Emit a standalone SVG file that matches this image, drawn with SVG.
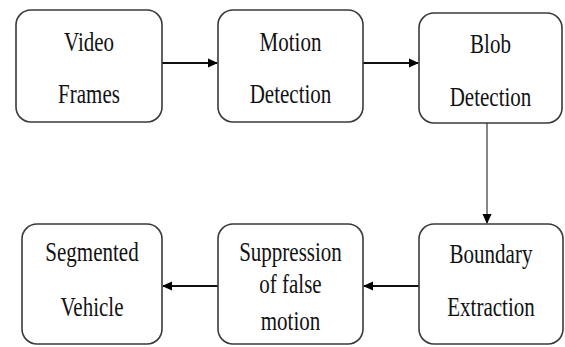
<svg xmlns="http://www.w3.org/2000/svg" width="565" height="347" viewBox="0 0 565 347">
<style>
.box{fill:#fff;stroke:#3a3a3a;stroke-width:1.6}
.t{font-family:"Liberation Serif","Times New Roman",serif;font-size:21px;fill:#111;text-anchor:middle}
.c{stroke:#111;stroke-width:1.8;fill:none}
.cv{stroke:#222;stroke-width:1.1;fill:none}
</style>
<defs>
<marker id="ah" markerWidth="10" markerHeight="10" refX="9" refY="5" orient="auto" markerUnits="userSpaceOnUse">
<path d="M0,0.5 L10,5 L0,9.5 Z" fill="#000"/>
</marker>
</defs>
<rect width="565" height="347" fill="#fff"/>
<g id="connectors">
<line class="c" x1="162" y1="63" x2="217" y2="63" marker-end="url(#ah)"/>
<line class="c" x1="363" y1="63" x2="418" y2="63" marker-end="url(#ah)"/>
<line class="cv" x1="487" y1="123" x2="487" y2="223" marker-end="url(#ah)"/>
<line class="c" x1="419" y1="286" x2="364" y2="286" marker-end="url(#ah)"/>
<line class="c" x1="218" y1="286" x2="163" y2="286" marker-end="url(#ah)"/>
</g>
<g id="video-frames">
<rect class="box" x="16" y="10" width="146" height="112" rx="15"/>
<text class="t" transform="translate(89,51) scale(1,1.35)">Video</text>
<text class="t" transform="translate(89,103) scale(1,1.35)">Frames</text>
</g>
<g id="motion-detection">
<rect class="box" x="218" y="10" width="145" height="112" rx="15"/>
<text class="t" transform="translate(290.5,51) scale(1,1.35)">Motion</text>
<text class="t" transform="translate(290.5,103) scale(1,1.35)">Detection</text>
</g>
<g id="blob-detection">
<rect class="box" x="419" y="13" width="143" height="110" rx="15"/>
<text class="t" transform="translate(490.5,53) scale(1,1.35)">Blob</text>
<text class="t" transform="translate(490.5,106) scale(1,1.35)">Detection</text>
</g>
<g id="boundary-extraction">
<rect class="box" x="419" y="224" width="144" height="120" rx="15"/>
<text class="t" transform="translate(491,263) scale(1,1.35)">Boundary</text>
<text class="t" transform="translate(491,316) scale(1,1.35)">Extraction</text>
</g>
<g id="suppression">
<rect class="box" x="218" y="224" width="145" height="120" rx="15"/>
<text class="t" transform="translate(290.5,261) scale(1,1.35)">Suppression</text>
<text class="t" transform="translate(290.5,293) scale(1,1.35)">of false</text>
<text class="t" transform="translate(290.5,330) scale(1,1.35)">motion</text>
</g>
<g id="segmented-vehicle">
<rect class="box" x="22" y="224" width="140" height="120" rx="15"/>
<text class="t" transform="translate(92,261) scale(1,1.35)">Segmented</text>
<text class="t" transform="translate(92,316) scale(1,1.35)">Vehicle</text>
</g>
</svg>
